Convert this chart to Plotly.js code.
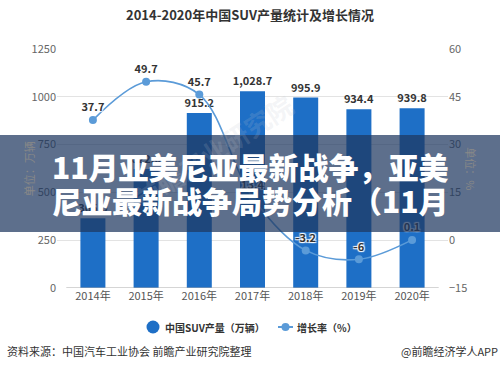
<!DOCTYPE html>
<html>
<head>
<meta charset="utf-8">
<script src="https://cdn.plot.ly/plotly-3.0.1.min.js"></script>
<style>html,body{margin:0;padding:0;background:#fff;}#chart{width:500px;height:369px;}</style>
</head>
<body>
<div id="chart"></div>
<script>
const years = ['2014年','2015年','2016年','2017年','2018年','2019年','2020年'];
const production = [365, 622, 915.2, 1028.7, 995.9, 934.4, 939.8];
const growth = [37.7, 49.7, 45.7, 13.4, -3.2, -6, 0.1];
const growthLabels = ['37.7','49.7','45.7','13.4','-3.2','-6','0.1'];
const leftTicks = [0, 250, 500, 750, 1000, 1250];
const rightTicks = [-15, 0, 15, 30, 45, 60];
const legendNames = ['中国SUV产量（万辆）', '增长率（%）'];

const FONT = '"Noto Sans CJK SC", "Noto Sans", sans-serif';
const BAR = '#1e6fc6';
const LINE = '#5b9bd8';
const halo = '1px 1px 1px #fff, -1px -1px 1px #fff, 1px -1px 1px #fff, -1px 1px 1px #fff';

// pixel -> paper helpers (plot area: x 57..448, y 49..288)
const px = v => (v - 57) / 391;
const py = v => (288 - v) / 239;

const traces = [
  {
    type: 'bar', x: years, y: production, yaxis: 'y', name: legendNames[0],
    marker: {color: BAR}, showlegend: false,
    texttemplate: '%{y:,.1f}', textposition: 'outside', cliponaxis: false, constraintext: 'none',
    textfont: {family: FONT, size: 11, color: '#333', weight: 'bold'},
    hoverinfo: 'skip'
  },
  {
    type: 'scatter', x: years, y: growth, yaxis: 'y2', name: legendNames[1], showlegend: false,
    mode: 'lines+markers+text', text: growthLabels, textposition: 'top center',
    line: {color: LINE, width: 1.6, shape: 'spline', smoothing: 1},
    marker: {color: LINE, size: 8},
    textfont: {family: FONT, size: 11, color: '#333', weight: 'bold', shadow: halo},
    cliponaxis: false, hoverinfo: 'skip'
  }
];

const legY = py(327);

const layout = {
  width: 500, height: 369,
  margin: {l: 57, r: 52, t: 49, b: 81},
  paper_bgcolor: '#fff', plot_bgcolor: '#fff',
  font: {family: FONT, color: '#555'},
  showlegend: false,
  title: {text: '2014-2020年中国SUV产量统计及增长情况', x: 0.5, xanchor: 'center', y: 0.957, yanchor: 'middle',
          font: {family: FONT, size: 13, color: '#333', weight: 'bold'}},
  bargap: 0.53,
  xaxis: {type: 'category', range: [-0.675, 6.675], showgrid: false, zeroline: false, showline: false,
          ticks: '', tickfont: {family: FONT, size: 11, color: '#555'}, fixedrange: true},
  yaxis: {range: [0, 1250], tickvals: leftTicks, showgrid: true, gridcolor: '#e3e3e3', gridwidth: 1,
          zeroline: false, showline: false, ticks: '', tickfont: {family: FONT, size: 11, color: '#666'}},
  yaxis2: {range: [-15, 60], tickvals: rightTicks, overlaying: 'y', side: 'right', showgrid: false,
           zeroline: false, showline: false, ticks: '', tickfont: {family: FONT, size: 11, color: '#666'}},
  shapes: [
    {type: 'line', xref: 'x', yref: 'y', x0: -0.5, x1: 6.5, y0: 0, y1: 0, line: {color: '#aaa', width: 1}, layer: 'above'},
    // legend symbols
    {type: 'circle', xref: 'paper', yref: 'paper', xsizemode: 'pixel', ysizemode: 'pixel',
     xanchor: px(153), yanchor: legY, x0: -6.5, x1: 6.5, y0: -6.5, y1: 6.5,
     fillcolor: BAR, line: {width: 0}},
    {type: 'line', xref: 'paper', yref: 'paper', x0: px(278), x1: px(293), y0: legY, y1: legY,
     line: {color: LINE, width: 2}},
    {type: 'circle', xref: 'paper', yref: 'paper', xsizemode: 'pixel', ysizemode: 'pixel',
     xanchor: px(285.5), yanchor: legY, x0: -4, x1: 4, y0: -4, y1: 4,
     fillcolor: LINE, line: {width: 0}},
    // banner
    {type: 'rect', xref: 'paper', yref: 'paper', x0: -0.2, x1: 1.2, y0: 0.234, y1: 0.640,
     fillcolor: 'rgba(30,55,95,0.72)', line: {width: 0}, layer: 'above'}
  ],
  annotations: [
    {text: '前瞻产业研究院', xref: 'paper', yref: 'paper', x: 0.40, y: 0.86, showarrow: false, textangle: -33,
     font: {family: FONT, size: 26, color: 'rgba(190,195,205,0.18)', weight: 'bold'}},
    {text: '单位：万辆', xref: 'paper', yref: 'paper', x: -0.098, y: 0.50, showarrow: false, textangle: -90,
     font: {family: FONT, size: 11, color: '#888'}},
    {text: '单位：%', xref: 'paper', yref: 'paper', x: 1.085, y: 0.50, showarrow: false, textangle: 90,
     font: {family: FONT, size: 11, color: '#888'}},
    {text: legendNames[0], xref: 'paper', yref: 'paper', x: px(163), y: legY, xanchor: 'left', yanchor: 'middle',
     showarrow: false, font: {family: FONT, size: 10, color: '#333', weight: 'bold'}},
    {text: legendNames[1], xref: 'paper', yref: 'paper', x: px(295), y: legY, xanchor: 'left', yanchor: 'middle',
     showarrow: false, font: {family: FONT, size: 10, color: '#333', weight: 'bold'}},
    {text: '11月亚美尼亚最新战争，亚美', xref: 'paper', yref: 'paper', x: 0.496, y: 0.51, showarrow: false,
     xanchor: 'center', yanchor: 'middle', font: {family: FONT, size: 30, color: '#fff', weight: 900}},
    {text: '尼亚最新战争局势分析（11月', xref: 'paper', yref: 'paper', x: 0.496, y: 0.368, showarrow: false,
     xanchor: 'center', yanchor: 'middle', font: {family: FONT, size: 30, color: '#fff', weight: 900}},
    {text: '资料来源：中国汽车工业协会 前瞻产业研究院整理', xref: 'paper', yref: 'paper', x: -0.133, y: py(351),
     xanchor: 'left', yanchor: 'middle', showarrow: false, font: {family: FONT, size: 11, color: '#333'}},
    {text: '@前瞻经济学人APP', xref: 'paper', yref: 'paper', x: 1.133, y: py(351),
     xanchor: 'right', yanchor: 'middle', showarrow: false, font: {family: FONT, size: 11, color: '#333'}}
  ]
};

Plotly.newPlot('chart', traces, layout, {displayModeBar: false, staticPlot: true});
</script>
</body>
</html>
